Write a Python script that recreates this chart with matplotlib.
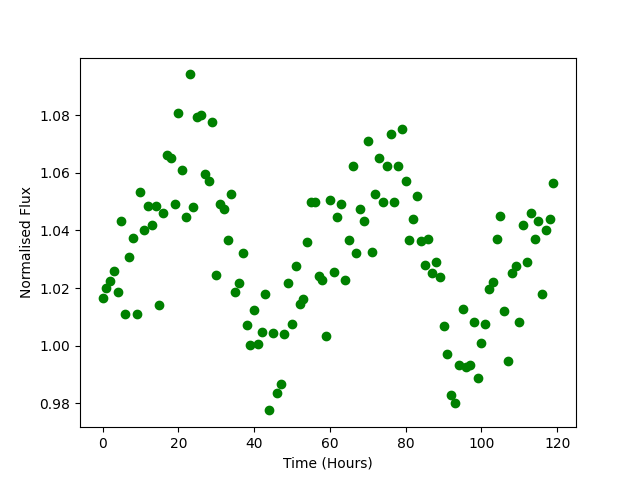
import numpy as np
import matplotlib
matplotlib.use("Agg")
import matplotlib.pyplot as plt

hours = list(range(120))
flux = [
    1.0165, 1.0202, 1.0226, 1.0261, 1.0188, 1.0431, 1.0111, 1.0309, 1.0375, 1.0111,
    1.0532, 1.0403, 1.0483, 1.0420, 1.0483, 1.0140, 1.0459, 1.0660, 1.0650, 1.0493,
    1.0806, 1.0608, 1.0448, 1.0941, 1.0480, 1.0792, 1.0799, 1.0594, 1.0570, 1.0775,
    1.0247, 1.0493, 1.0476, 1.0368, 1.0528, 1.0188, 1.0216, 1.0323, 1.0073, 1.0004,
    1.0125, 1.0007, 1.0049, 1.0181, 0.9776, 1.0046, 0.9838, 0.9866, 1.0042, 1.0216,
    1.0077, 1.0275, 1.0146, 1.0162, 1.0361, 1.0500, 1.0497, 1.0243, 1.0229, 1.0035,
    1.0504, 1.0257, 1.0448, 1.0490, 1.0229, 1.0368, 1.0625, 1.0323, 1.0473, 1.0431,
    1.0709, 1.0326, 1.0528, 1.0650, 1.0500, 1.0622, 1.0736, 1.0500, 1.0622, 1.0750,
    1.0570, 1.0368, 1.0441, 1.0518, 1.0365, 1.0279, 1.0372, 1.0252, 1.0290, 1.0238,
    1.0068, 0.9970, 0.9831, 0.9803, 0.9935, 1.0126, 0.9928, 0.9935, 1.0081, 0.9890,
    1.0011, 1.0077, 1.0196, 1.0220, 1.0372, 1.0449, 1.0120, 0.9946, 1.0252, 1.0276,
    1.0081, 1.0418, 1.0292, 1.0462, 1.0372, 1.0434, 1.0181, 1.0403, 1.0438, 1.0563,
]

fig, ax = plt.subplots(figsize=(6.4, 4.8), dpi=100)
ax.plot(hours, flux, 'go')
ax.set_xlabel("Time (Hours)")
ax.set_ylabel("Normalised Flux")
fig.savefig("out.png")
